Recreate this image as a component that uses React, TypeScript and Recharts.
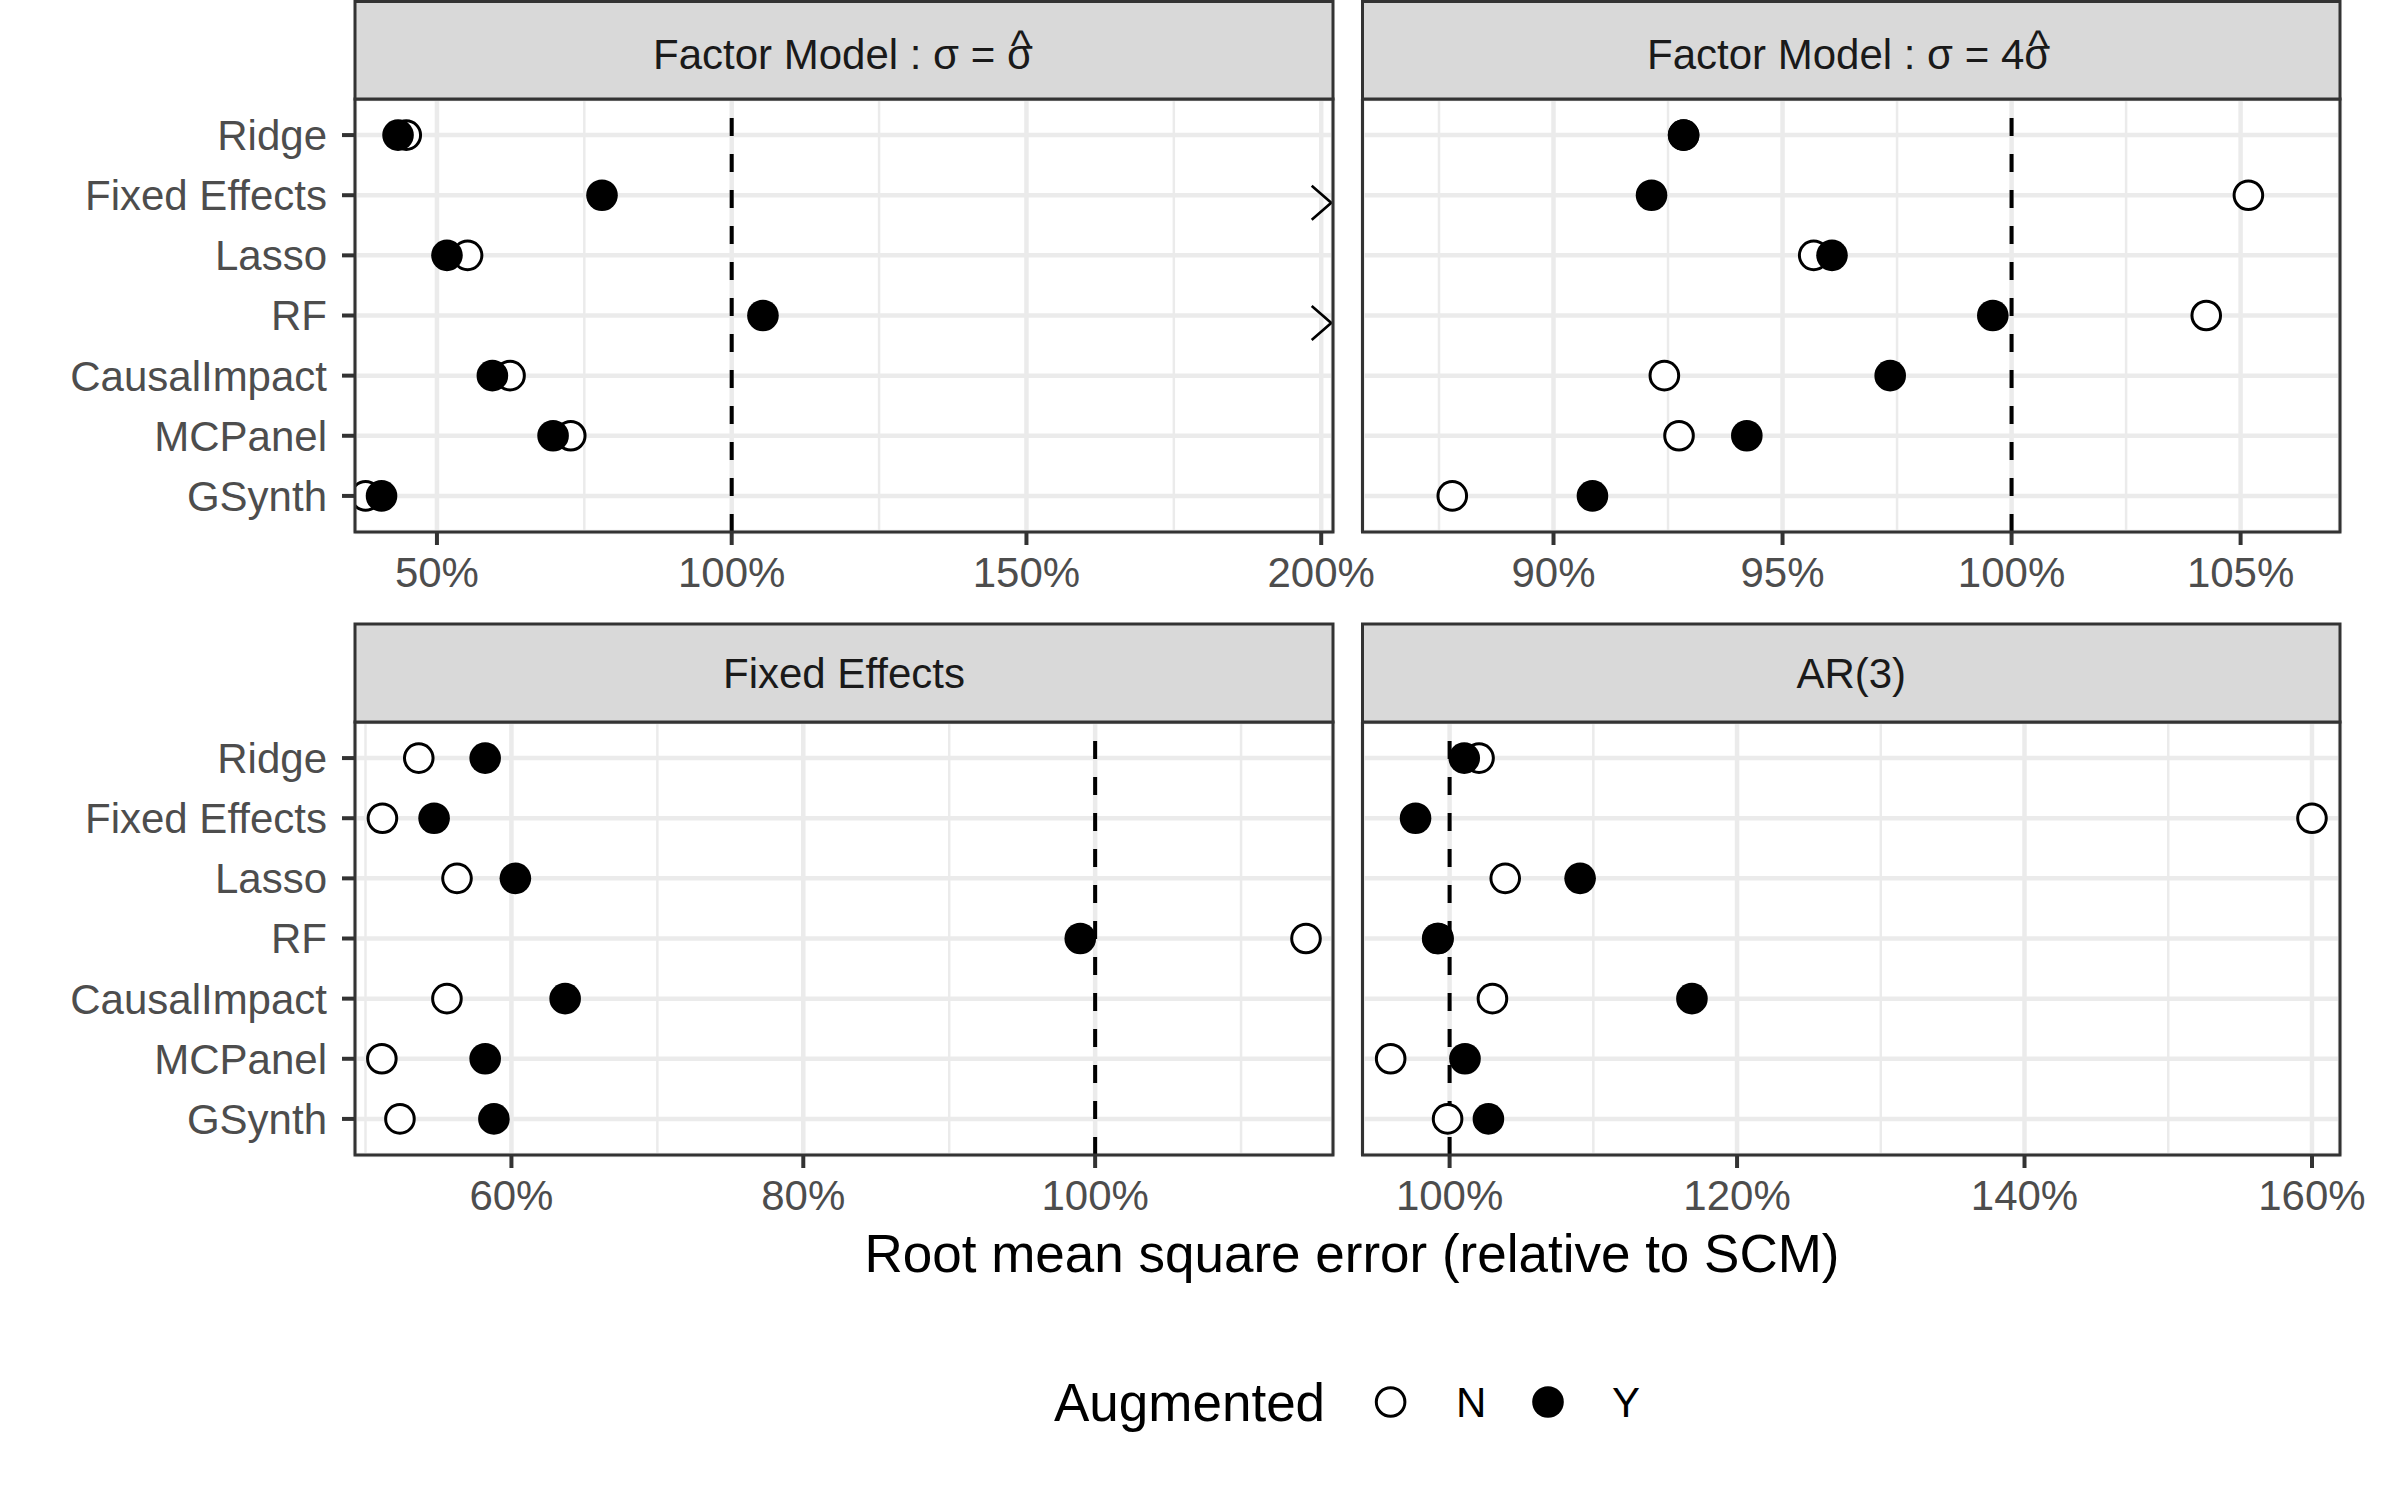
import { ScatterChart, Scatter, XAxis, YAxis, CartesianGrid, ReferenceLine } from "recharts";

const FONT = "'Liberation Sans', Arial, Helvetica, sans-serif";

const methods = ["Ridge", "Fixed Effects", "Lasso", "RF", "CausalImpact", "MCPanel", "GSynth"];

// Factor Model: sigma = sigma-hat   (null = beyond the 200% limit, drawn as ">")
const fm1N = [44.8, null, 55.2, null, 62.4, 72.7, 37.9];
const fm1Y = [43.4, 78.0, 51.7, 105.3, 59.4, 69.7, 40.6];
const fm1Cap = 200;
const fm1Ticks = [50, 100, 150, 200];
const fm1Minor = [75, 125, 175];
const fm1Domain = [36.1, 202];

// Factor Model: sigma = 4 sigma-hat
const fm4N = [92.84, 105.17, 95.68, 104.25, 92.42, 92.74, 87.79];
const fm4Y = [92.84, 92.14, 96.08, 99.59, 97.35, 94.22, 90.85];
const fm4Ticks = [90, 95, 100, 105];
const fm4Minor = [87.5, 92.5, 97.5, 102.5];
const fm4Domain = [85.83, 107.17];

// Fixed Effects
const feN = [53.65, 51.16, 56.27, 114.45, 55.58, 51.12, 52.36];
const feY = [58.2, 54.7, 60.27, 98.98, 63.68, 58.2, 58.8];
const feTicks = [60, 80, 100];
const feMinor = [50, 70, 90, 110];
const feDomain = [49.28, 116.3];

// AR(3)
const arN = [102.05, 160.0, 103.87, 99.2, 102.98, 95.9, 99.86];
const arY = [101.02, 97.63, 109.08, 99.17, 116.86, 101.07, 102.7];
const arTicks = [100, 120, 140, 160];
const arMinor = [110, 130, 150];
const arDomain = [93.94, 161.95];

const rowTicks = methods.map((_, i) => i);

const OpenDot = (p: any) => (
  <circle cx={p.cx} cy={p.cy} r={14.3} fill="#FFFFFF" stroke="#000000" strokeWidth={3} />
);
const FilledDot = (p: any) => <circle cx={p.cx} cy={p.cy} r={15.8} fill="#000000" />;
const Chevron = (p: any) => (
  <path
    d={`M${p.cx - 9.5},${p.cy - 9.5} L${p.cx + 10},${p.cy + 7.5} L${p.cx - 9.5},${p.cy + 24.5}`}
    fill="none"
    stroke="#000000"
    strokeWidth={2.6}
  />
);

function Panel({ left, top, width, plotLeft, plotRight, n, y, cap, domain, ticks, minor, showY }: any) {
  const nData = methods
    .map((m, i) => ({ method: m, x: n[i], y: i }))
    .filter((d) => d.x !== null);
  const offData = methods
    .map((m, i) => ({ method: m, x: cap, y: i, raw: n[i] }))
    .filter((d) => d.raw === null);
  const yData = methods.map((m, i) => ({ method: m, x: y[i], y: i }));

  return (
    <div style={{ position: "absolute", left, top }}>
      <ScatterChart
        width={width}
        height={600}
        margin={{ top: 99, right: left + width - plotRight, bottom: 0, left: showY ? 0 : plotLeft - left }}
      >
        <CartesianGrid stroke="#EBEBEB" strokeWidth={4.5} />
        {minor.map((v: number) => (
          <ReferenceLine key={v} x={v} stroke="#EBEBEB" strokeWidth={2.5} />
        ))}
        <XAxis
          type="number"
          dataKey="x"
          domain={domain}
          ticks={ticks}
          interval={0}
          allowDataOverflow
          tickFormatter={(v: number) => `${v}%`}
          height={68}
          tickSize={13}
          tickMargin={12}
          axisLine={false}
          tickLine={{ stroke: "#333333", strokeWidth: 4 }}
          tick={{ fill: "#4D4D4D", fontSize: 42, fontFamily: FONT }}
        />
        <YAxis
          type="number"
          dataKey="y"
          domain={[-0.6, 6.6]}
          ticks={rowTicks}
          interval={0}
          reversed
          hide={!showY}
          width={plotLeft - left}
          tickFormatter={(i: number) => methods[i]}
          tickSize={13}
          tickMargin={15}
          axisLine={false}
          tickLine={{ stroke: "#333333", strokeWidth: 4 }}
          tick={{ fill: "#4D4D4D", fontSize: 42, fontFamily: FONT }}
        />
        <ReferenceLine x={100} stroke="#000000" strokeWidth={4} strokeDasharray="18 18" />
        <Scatter data={nData} shape={OpenDot} isAnimationActive={false} />
        <Scatter data={offData} shape={Chevron} isAnimationActive={false} />
        <Scatter data={yData} shape={FilledDot} isAnimationActive={false} />
      </ScatterChart>
    </div>
  );
}

function Strip({ x1, x2, y1, y2, children }: any) {
  return (
    <g>
      <rect x={x1} y={y1} width={x2 - x1} height={y2 - y1} fill="#D9D9D9" stroke="#333333" strokeWidth={3} />
      {children}
    </g>
  );
}

export default function App() {
  const L1 = 355, R1 = 1333, L2 = 1362.5, R2 = 2340;
  const T1 = 99, B1 = 532, T2 = 722, B2 = 1155;
  const strip = { fontSize: 42, fill: "#1A1A1A", fontFamily: FONT };

  return (
    <div
      style={{
        position: "absolute",
        left: 0,
        top: 0,
        width: 2400,
        height: 1500,
        background: "#FFFFFF",
        overflow: "hidden",
        fontFamily: FONT,
      }}
    >
      <Panel left={0} top={0} width={1400} plotLeft={L1} plotRight={R1} n={fm1N} y={fm1Y} cap={fm1Cap}
        domain={fm1Domain} ticks={fm1Ticks} minor={fm1Minor} showY />
      <Panel left={1350} top={0} width={1050} plotLeft={L2} plotRight={R2} n={fm4N} y={fm4Y} cap={null}
        domain={fm4Domain} ticks={fm4Ticks} minor={fm4Minor} showY={false} />
      <Panel left={0} top={623} width={1400} plotLeft={L1} plotRight={R1} n={feN} y={feY} cap={null}
        domain={feDomain} ticks={feTicks} minor={feMinor} showY />
      <Panel left={1350} top={623} width={1050} plotLeft={L2} plotRight={R2} n={arN} y={arY} cap={null}
        domain={arDomain} ticks={arTicks} minor={arMinor} showY={false} />

      <svg width={2400} height={1500} style={{ position: "absolute", left: 0, top: 0, pointerEvents: "none" }}>
        {/* panel borders */}
        <rect x={L1} y={T1} width={R1 - L1} height={B1 - T1} fill="none" stroke="#333333" strokeWidth={3} />
        <rect x={L2} y={T1} width={R2 - L2} height={B1 - T1} fill="none" stroke="#333333" strokeWidth={3} />
        <rect x={L1} y={T2} width={R1 - L1} height={B2 - T2} fill="none" stroke="#333333" strokeWidth={3} />
        <rect x={L2} y={T2} width={R2 - L2} height={B2 - T2} fill="none" stroke="#333333" strokeWidth={3} />

        {/* strips (hat placed over the last sigma) */}
        <Strip x1={L1} x2={R1} y1={1.5} y2={T1}>
          <text x={653} y={69} {...strip}>
            Factor Model :  σ = σ<tspan dx={-22} dy={-9}>^</tspan>
          </text>
        </Strip>
        <Strip x1={L2} x2={R2} y1={1.5} y2={T1}>
          <text x={1647} y={69} {...strip}>
            Factor Model :  σ = 4σ<tspan dx={-22} dy={-9}>^</tspan>
          </text>
        </Strip>
        <Strip x1={L1} x2={R1} y1={624} y2={T2}>
          <text x={(L1 + R1) / 2} y={688} textAnchor="middle" {...strip}>Fixed Effects</text>
        </Strip>
        <Strip x1={L2} x2={R2} y1={624} y2={T2}>
          <text x={(L2 + R2) / 2} y={688} textAnchor="middle" {...strip}>AR(3)</text>
        </Strip>

        {/* x-axis title */}
        <text x={1352} y={1272} textAnchor="middle" fontSize={53} fill="#000000" fontFamily={FONT}>
          Root mean square error (relative to SCM)
        </text>

        {/* legend */}
        <text x={1054} y={1421} fontSize={53} fill="#000000" fontFamily={FONT}>Augmented</text>
        <circle cx={1390.6} cy={1402} r={14.3} fill="#FFFFFF" stroke="#000000" strokeWidth={3} />
        <text x={1456} y={1417} fontSize={42} fill="#000000" fontFamily={FONT}>N</text>
        <circle cx={1548} cy={1402} r={15.8} fill="#000000" />
        <text x={1612} y={1417} fontSize={42} fill="#000000" fontFamily={FONT}>Y</text>
      </svg>
    </div>
  );
}
